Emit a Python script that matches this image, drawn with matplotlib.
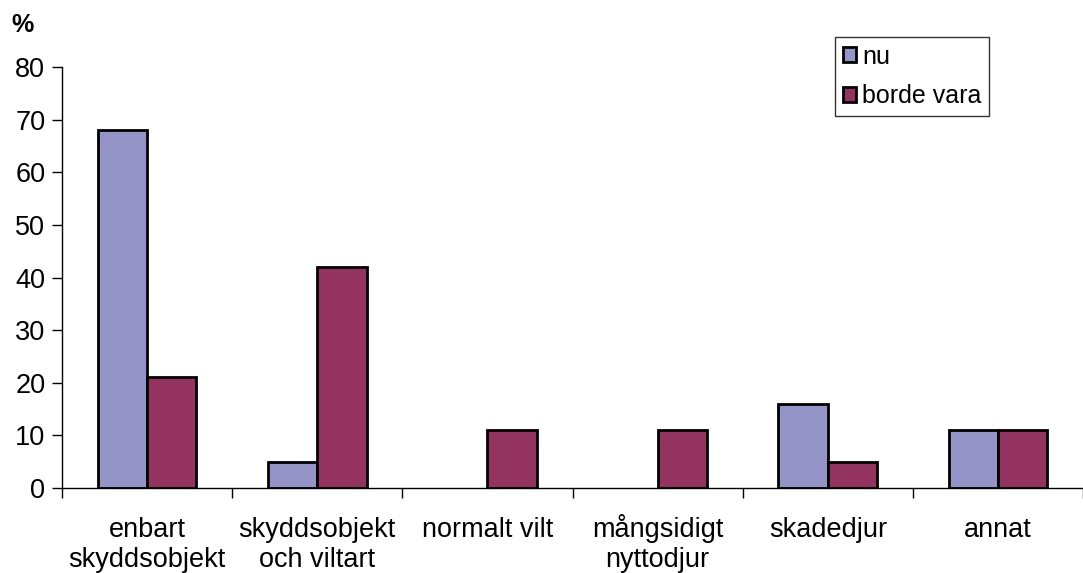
import matplotlib
matplotlib.use("Agg")
import matplotlib.pyplot as plt
from matplotlib.transforms import blended_transform_factory
import numpy as np

categories = ["enbart\nskyddsobjekt", "skyddsobjekt\noch viltart", "normalt vilt",
              "mångsidigt\nnyttodjur", "skadedjur", "annat"]
nu = [68, 5, 0, 0, 16, 11]
borde_vara = [21, 42, 11, 11, 5, 11]
series_names = ["nu", "borde vara"]
yticks = [0, 10, 20, 30, 40, 50, 60, 70, 80]

plt.rcParams['font.family'] = ['Liberation Sans', 'DejaVu Sans']

fig = plt.figure(figsize=(10.83, 5.73), dpi=100)
ax = fig.add_axes([62/1083, 1-488/573, 1-62/1083, (488-67)/573])

x = np.arange(len(categories))
w = 0.29
c1 = "#9494C8"
c2 = "#943260"
b1 = ax.bar(x - w/2, nu, w, color=c1, edgecolor="black", linewidth=2)
b2 = ax.bar(x + w/2, borde_vara, w, color=c2, edgecolor="black", linewidth=2)
for r, v in zip(b1, nu):
    if v == 0:
        r.set_visible(False)
for r, v in zip(b2, borde_vara):
    if v == 0:
        r.set_visible(False)

ax.set_xlim(-0.5, len(categories) - 0.5)
ax.set_ylim(0, 80)
ax.set_yticks(yticks)
ax.tick_params(axis='y', labelsize=19.5, direction='out', length=7, width=1, pad=5)
ax.set_xticks(np.arange(len(categories) + 1) - 0.5)
ax.set_xticklabels([])
ax.tick_params(axis='x', direction='out', length=7, width=1)

trans = blended_transform_factory(ax.transData, ax.transAxes)
axh = 488 - 67
for xi, lab in zip(x, categories):
    for k, line in enumerate(lab.split("\n")):
        base = 537 + 30 * k
        ax.text(xi, -(base - 488) / axh, line, transform=trans, ha='center',
                va='baseline', fontsize=19.5, clip_on=False)

for s in ['top', 'right']:
    ax.spines[s].set_visible(False)
for s in ['left', 'bottom']:
    ax.spines[s].set_linewidth(1)

fig.text(11/1083, 1-25/573, "%", fontsize=18, fontweight='bold', va='center', ha='left')

leg = fig.legend([b1, b2], series_names, loc='upper left',
                 bbox_to_anchor=(835/1083, 1-37/573), fontsize=18,
                 frameon=True, fancybox=False, edgecolor='black',
                 handlelength=0.55, handleheight=0.55, handletextpad=0.25,
                 borderpad=0.3, labelspacing=0.62, borderaxespad=0)
leg.get_frame().set_linewidth(1)

fig.savefig("out.png", dpi=100)
